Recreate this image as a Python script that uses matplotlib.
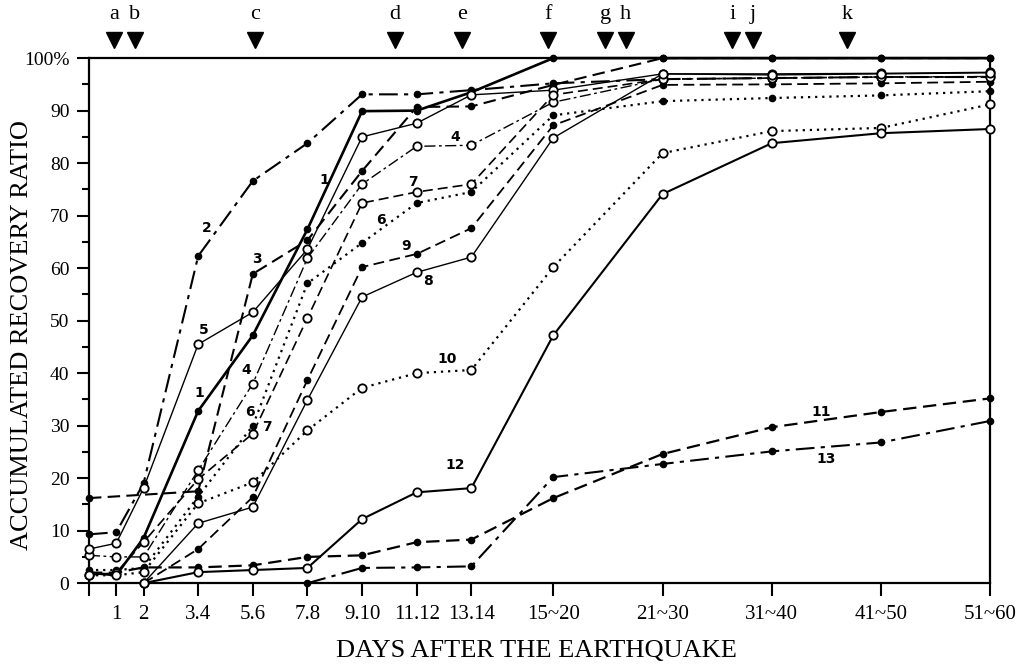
import numpy as np
import matplotlib
matplotlib.use("Agg")
import matplotlib.pyplot as plt
from matplotlib.ticker import MultipleLocator, FixedLocator

# x positions of the day groups (day 0 at the axis)
x_pos = [0, 1, 2, 4, 6, 8, 10, 12, 14, 17, 21, 25, 29, 33]
tick_pos = x_pos[1:]
tick_labels = ['1', '2', '3.4', '5.6', '7.8', '9.10', '11.12', '13.14',
               '15~20', '21~30', '31~40', '41~50', '51~60']
y_ticks = [0, 10, 20, 30, 40, 50, 60, 70, 80, 90, 100]
y_tick_labels = ['0', '10', '20', '30', '40', '50', '60', '70', '80', '90', '100%']

# accumulated recovery ratio (%) per series, None = no point
s1 = [2.0, 1.5, 8.6, 32.8, 47.2, 67.4, 89.9, 90.0, 93.5, 100, 100, 100, 100, 100]
s2 = [9.3, 9.7, 19.0, 62.3, 76.6, 83.8, 93.1, 93.1, 93.9, 95.2, 96.0, 96.2, 96.4, 96.4]
s3 = [16.2, None, None, 17.5, 58.9, 65.3, 78.5, 90.7, 90.8, 94.9, 100, 100, 100, 100]
s4 = [5.3, 5.0, 5.0, 21.5, 38.0, 61.9, 76.0, 83.2, 83.4, 91.6, 96.0, 96.2, 96.4, 96.5]
s5 = [6.5, 7.6, 18.1, 45.5, 51.6, 63.6, 85.0, 87.6, 93.0, 93.9, 97.0, 97.0, 97.1, 97.3]
s6 = [2.5, 2.5, 2.9, 16.5, 30.0, 57.1, 64.8, 72.4, 74.5, 89.1, 91.8, 92.4, 92.9, 93.7]
s7 = [1.5, 2.0, 7.8, 19.8, 28.5, 50.5, 72.4, 74.5, 76.0, 93.0, 96.0, 96.2, 96.4, 96.4]
s8 = [None, None, 0, 11.4, 14.5, 34.9, 54.5, 59.2, 62.1, 84.8, 97.0, 96.8, 97.0, 97.2]
s9 = [None, None, 0, 6.5, 16.4, 38.7, 60.2, 62.7, 67.6, 87.2, 94.9, 95.0, 95.2, 95.5]
s10 = [1.5, 1.5, 2.1, 15.2, 19.2, 29.1, 37.2, 40.0, 40.6, 60.2, 81.9, 86.1, 86.7, 91.2]
s11 = [2.0, 2.0, 3.0, 3.0, 3.4, 5.0, 5.3, 7.8, 8.3, 16.2, 24.6, 29.7, 32.6, 35.2]
s12 = [None, None, 0, 2.1, 2.5, 2.9, 12.2, 17.3, 18.1, 47.2, 74.1, 83.8, 85.7, 86.5]
s13 = [None, None, None, None, None, 0, 2.9, 3.0, 3.2, 20.2, 22.7, 25.1, 26.8, 30.9]

# event markers on top of the chart
event_letters = ['a', 'b', 'c', 'd', 'e', 'f', 'g', 'h', 'i', 'j', 'k']
event_x = [0.93, 1.67, 6.07, 11.2, 13.67, 16.8, 18.9, 19.65, 23.55, 24.3, 27.75]

# series numbers written on the chart
label_text = ['1', '1', '2', '3', '4', '4', '5', '6', '6', '7', '7',
              '8', '9', '10', '11', '12', '13']
label_x = [8.6, 4.05, 4.3, 6.15, 5.75, 13.4, 4.2, 5.9, 10.7, 6.5, 11.85,
           12.4, 11.6, 13.1, 26.8, 13.4, 27.0]
label_y = [76.8, 36.2, 67.6, 61.8, 40.6, 85.0, 48.2, 32.6, 69.1, 29.8, 76.4,
           57.5, 64.2, 42.7, 32.6, 22.5, 23.6]

DASHDOT = (0, (9, 3, 2, 3))
DASHED = (0, (6, 3))
DOTTED = (0, (1, 2.2))

series = [
    (s1, '-', True, 1.9),
    (s2, DASHDOT, True, 1.5),
    (s3, DASHED, True, 1.5),
    (s4, (0, (8, 2.5, 2, 2.5)), False, 1.0),
    (s5, '-', False, 1.0),
    (s6, DOTTED, True, 1.6),
    (s7, DASHED, False, 1.2),
    (s8, '-', False, 1.0),
    (s9, DASHED, True, 1.3),
    (s10, DOTTED, False, 1.6),
    (s11, DASHED, True, 1.6),
    (s12, '-', False, 1.5),
    (s13, DASHDOT, True, 1.5),
]

plt.rcParams['font.family'] = ['Liberation Serif', 'DejaVu Serif']

fig = plt.figure(figsize=(10.22, 6.68), dpi=100)
ax = fig.add_axes([0.087, 0.127, 0.882, 0.786])

for vals, ls, filled, lw in series:
    xs = [x for x, v in zip(x_pos, vals) if v is not None]
    ys = [v for v in vals if v is not None]
    if filled:
        ax.plot(xs, ys, linestyle=ls, color='black', linewidth=lw,
                marker='o', markersize=4.5, markerfacecolor='black',
                markeredgecolor='black', clip_on=False, zorder=3)
    else:
        ax.plot(xs, ys, linestyle=ls, color='black', linewidth=lw,
                marker='o', markersize=6, markerfacecolor='white',
                markeredgecolor='black', markeredgewidth=1.3,
                clip_on=False, zorder=4)

for t, x, y in zip(label_text, label_x, label_y):
    ax.text(x, y, t, fontsize=10, fontweight='bold', family='DejaVu Sans',
            ha='center', va='center', zorder=5)

# event triangles above the frame
trans = ax.get_xaxis_transform()
ax.plot(event_x, [1.034] * len(event_x), linestyle='none', marker='v',
        markersize=12, color='black', transform=trans, clip_on=False)
for letter, x in zip(event_letters, event_x):
    ax.text(x, 1.084, letter, transform=trans, ha='center', va='center',
            fontsize=16)

ax.set_xlim(0, 33)
ax.set_ylim(0, 100)
ax.xaxis.set_major_locator(FixedLocator(tick_pos))
ax.xaxis.set_minor_locator(FixedLocator([0]))
ax.set_xticklabels(tick_labels, fontsize=15)
ax.set_yticks(y_ticks)
ax.yaxis.set_minor_locator(MultipleLocator(5))
ax.set_yticklabels(y_tick_labels, fontsize=14)
ax.tick_params(axis='both', which='major', direction='out', length=9, width=1.5, pad=5)
ax.tick_params(axis='both', which='minor', direction='out', length=5, width=1.5)
ax.tick_params(axis='x', which='minor', length=9)
ax.tick_params(axis='x', which='major', pad=7)
for sp in ax.spines.values():
    sp.set_linewidth(1.6)

fig.text(0.5245, 0.026, 'DAYS AFTER THE EARTHQUAKE', fontsize=19,
         ha='center', va='center')
fig.text(0.022, 0.4985, 'ACCUMULATED RECOVERY RATIO', fontsize=19,
         rotation=90, ha='center', va='center')

fig.savefig('out.png', dpi=100)
